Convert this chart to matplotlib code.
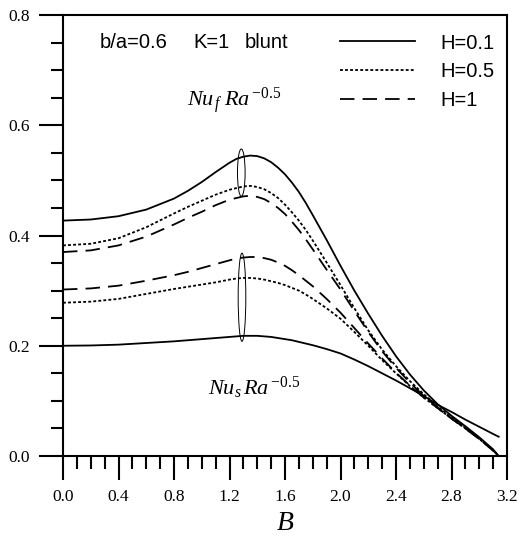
import matplotlib
matplotlib.use("Agg")
import numpy as np
from matplotlib import pyplot as plt
from matplotlib.patches import Ellipse

# B values (common grid for all curves)
B = [0.0, 0.2, 0.4, 0.6, 0.8, 0.9, 1.0, 1.1, 1.2, 1.25, 1.3, 1.35, 1.4, 1.45,
     1.5, 1.55, 1.6, 1.65, 1.7, 1.75, 1.8, 1.9, 2.0, 2.1, 2.2, 2.3, 2.4, 2.5,
     2.6, 2.7, 2.8, 2.9, 3.0, 3.1, 3.14]

# Nu_f Ra^-0.5
nuf_h01 = [0.427, 0.429, 0.435, 0.447, 0.467, 0.481, 0.497, 0.515, 0.532, 0.539,
           0.543, 0.545, 0.544, 0.540, 0.533, 0.523, 0.511, 0.496, 0.479, 0.459,
           0.437, 0.392, 0.345, 0.300, 0.258, 0.218, 0.181, 0.148, 0.119, 0.094,
           0.073, 0.054, 0.034, 0.012, 0.0]
nuf_h05 = [0.382, 0.385, 0.395, 0.415, 0.440, 0.452, 0.463, 0.474, 0.483, 0.486,
           0.489, 0.490, 0.488, 0.484, 0.477, 0.468, 0.456, 0.442, 0.427, 0.410,
           0.391, 0.351, 0.310, 0.268, 0.228, 0.193, 0.163, 0.136, 0.112, 0.090,
           0.070, 0.051, 0.032, 0.011, 0.0]
nuf_h1 = [0.370, 0.373, 0.382, 0.398, 0.420, 0.432, 0.443, 0.455, 0.465, 0.468,
          0.471, 0.472, 0.470, 0.466, 0.459, 0.450, 0.439, 0.425, 0.410, 0.393,
          0.375, 0.338, 0.302, 0.263, 0.225, 0.190, 0.160, 0.133, 0.109, 0.088,
          0.068, 0.050, 0.031, 0.010, 0.0]

# Nu_s Ra^-0.5
nus_h01 = [0.200, 0.2005, 0.202, 0.205, 0.208, 0.210, 0.212, 0.214, 0.216, 0.217,
           0.218, 0.218, 0.218, 0.217, 0.216, 0.214, 0.212, 0.210, 0.207, 0.204,
           0.201, 0.194, 0.186, 0.175, 0.163, 0.150, 0.137, 0.123, 0.109, 0.093,
           0.080, 0.066, 0.053, 0.040, 0.035]
nus_h05 = [0.278, 0.280, 0.285, 0.294, 0.303, 0.307, 0.311, 0.315, 0.320, 0.322,
           0.323, 0.323, 0.322, 0.320, 0.317, 0.314, 0.310, 0.305, 0.300, 0.293,
           0.285, 0.268, 0.249, 0.225, 0.200, 0.174, 0.150, 0.127, 0.106, 0.087,
           0.068, 0.050, 0.031, 0.010, 0.0]
nus_h1 = [0.302, 0.304, 0.309, 0.318, 0.328, 0.334, 0.341, 0.348, 0.355, 0.358,
          0.360, 0.361, 0.361, 0.359, 0.356, 0.351, 0.345, 0.337, 0.328, 0.318,
          0.308, 0.285, 0.260, 0.232, 0.204, 0.177, 0.151, 0.128, 0.106, 0.087,
          0.068, 0.050, 0.031, 0.010, 0.0]

labels = ["H=0.1", "H=0.5", "H=1"]

plt.rcParams["mathtext.fontset"] = "custom"
plt.rcParams["mathtext.rm"] = "Liberation Serif"
plt.rcParams["mathtext.it"] = "Liberation Serif:italic"

serif = "Liberation Serif"
sans = "Liberation Sans"

fig = plt.figure(figsize=(5.19, 5.39), dpi=100)
ax = fig.add_axes([63 / 519, 1 - 456 / 539, 444 / 519, 441 / 539])

styles = ["-", (0, (1.6, 1.2)), (0, (8, 4.5))]
lw = 1.3

for y, ls, lab in zip([nuf_h01, nuf_h05, nuf_h1], styles, labels):
    ax.plot(B, y, color="black", linestyle=ls, lw=lw, label=lab)
for y, ls in zip([nus_h01, nus_h05, nus_h1], styles):
    ax.plot(B, y, color="black", linestyle=ls, lw=lw)

# ellipses grouping the curves near the maximum
ax.add_patch(Ellipse((1.285, 0.514), 0.055, 0.086, fill=False, lw=0.7, color="black"))
ax.add_patch(Ellipse((1.29, 0.288), 0.055, 0.16, fill=False, lw=0.7, color="black"))

ax.set_xlim(0, 3.2)
ax.set_ylim(0, 0.8)
ax.set_xticks(np.arange(0, 3.21, 0.4))
ax.set_xticks(np.arange(0, 3.21, 0.1), minor=True)
ax.set_yticks(np.arange(0, 0.81, 0.2))
ax.set_yticks(np.arange(0, 0.81, 0.05), minor=True)
ax.set_xticklabels(["%.1f" % v for v in np.arange(0, 3.21, 0.4)])
ax.set_yticklabels(["%.1f" % v for v in np.arange(0, 0.81, 0.2)])
ax.tick_params(which="both", direction="out", top=False, right=False, width=1.5, color="black")
ax.tick_params(which="major", length=17, labelsize=12.5, pad=7)
ax.tick_params(which="minor", length=9)
for lbl in ax.get_xticklabels() + ax.get_yticklabels():
    lbl.set_fontfamily(serif)
for sp in ax.spines.values():
    sp.set_linewidth(1.5)

ax.set_xlabel("B", fontfamily=serif, fontstyle="italic", fontsize=20, va="baseline")
ax.xaxis.set_label_coords(0.5, -0.168)

ax.text(0.267, 0.74, "b/a=0.6", fontfamily=sans, fontsize=14.5, va="baseline")
ax.text(0.937, 0.74, "K=1", fontfamily=sans, fontsize=14.5, va="baseline")
ax.text(1.312, 0.74, "blunt", fontfamily=sans, fontsize=14.5, va="baseline")
ax.text(0.894, 0.635, r"$Nu_{\,f}\;Ra^{\,\mathrm{-0.5}}$", fontsize=16, va="baseline")
ax.text(1.045, 0.111, r"$Nu_{s}\,Ra^{\,\mathrm{-0.5}}$", fontsize=16, va="baseline")

leg = ax.legend(loc="upper right", bbox_to_anchor=(1.003, 0.99), frameon=False,
                handlelength=3.7, handletextpad=1.25, labelspacing=0.48,
                prop={"family": sans, "size": 14.5}, borderaxespad=0.3)

fig.savefig("out.png", dpi=100)
